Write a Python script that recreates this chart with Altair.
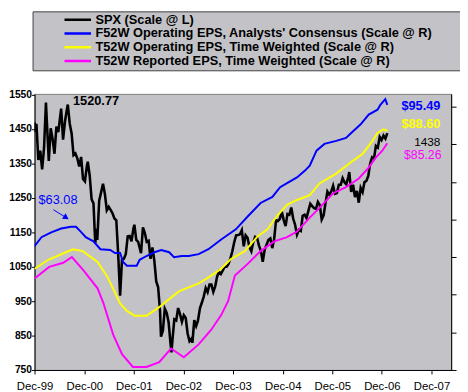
import altair as alt
import pandas as pd

# ---------------- data ----------------
series_names = [
    "SPX (Scale @ L)",
    "F52W Operating EPS, Analysts' Consensus (Scale @ R)",
    "T52W Operating EPS, Time Weighted (Scale @ R)",
    "T52W Reported EPS, Time Weighted (Scale @ R)",
]
series_colors = ["#000000", "#0000FF", "#FFFF00", "#FF00FF"]

spx_dates = [
    "1999-12-31", "2000-01-07", "2000-01-14", "2000-01-28", "2000-02-11", "2000-02-25", "2000-03-10",
    "2000-03-24", "2000-04-14", "2000-04-28", "2000-05-12", "2000-05-26", "2000-06-09", "2000-06-23",
    "2000-07-14", "2000-07-28", "2000-08-11", "2000-08-25", "2000-09-01", "2000-09-15", "2000-09-29",
    "2000-10-13", "2000-10-27", "2000-11-10", "2000-11-24", "2000-12-08", "2000-12-22",
    "2001-01-05", "2001-01-19", "2001-01-26", "2001-02-09", "2001-02-23", "2001-03-09", "2001-03-22",
    "2001-03-30", "2001-04-06", "2001-04-20", "2001-05-04", "2001-05-18", "2001-06-01", "2001-06-15",
    "2001-06-29", "2001-07-13", "2001-07-27", "2001-08-10", "2001-08-24", "2001-09-07", "2001-09-21",
    "2001-10-05", "2001-10-19", "2001-11-02", "2001-11-16", "2001-11-30", "2001-12-14", "2001-12-28",
    "2002-01-04", "2002-01-18", "2002-02-01", "2002-02-22", "2002-03-08", "2002-03-22", "2002-04-05",
    "2002-04-19", "2002-05-03", "2002-05-17", "2002-05-31", "2002-06-14", "2002-06-28", "2002-07-12",
    "2002-07-19", "2002-08-02", "2002-08-16", "2002-08-30", "2002-09-13", "2002-09-27", "2002-10-04",
    "2002-10-11", "2002-10-25", "2002-11-08", "2002-11-22", "2002-12-06", "2002-12-20",
    "2003-01-03", "2003-01-17", "2003-01-31", "2003-02-14", "2003-02-28", "2003-03-07", "2003-03-21",
    "2003-04-04", "2003-04-17", "2003-05-02", "2003-05-16", "2003-05-30", "2003-06-13", "2003-06-27",
    "2003-07-11", "2003-07-25", "2003-08-08", "2003-08-22", "2003-09-05", "2003-09-19", "2003-10-03",
    "2003-10-17", "2003-10-31", "2003-11-14", "2003-11-28", "2003-12-12", "2003-12-26",
    "2004-01-09", "2004-01-23", "2004-02-06", "2004-02-20", "2004-03-05", "2004-03-19", "2004-04-02",
    "2004-04-16", "2004-04-30", "2004-05-14", "2004-05-28", "2004-06-11", "2004-06-25", "2004-07-09",
    "2004-07-23", "2004-08-06", "2004-08-20", "2004-09-03", "2004-09-17", "2004-10-01", "2004-10-15",
    "2004-10-29", "2004-11-12", "2004-11-26", "2004-12-10", "2004-12-24",
    "2005-01-07", "2005-01-21", "2005-02-04", "2005-02-18", "2005-03-04", "2005-03-18", "2005-04-01",
    "2005-04-15", "2005-04-29", "2005-05-13", "2005-05-27", "2005-06-10", "2005-06-24", "2005-07-08",
    "2005-07-22", "2005-08-05", "2005-08-19", "2005-09-02", "2005-09-16", "2005-09-30", "2005-10-14",
    "2005-10-28", "2005-11-11", "2005-11-25", "2005-12-09", "2005-12-23",
    "2006-01-06", "2006-01-20", "2006-02-03", "2006-02-17", "2006-03-03", "2006-03-17", "2006-03-31",
    "2006-04-13", "2006-04-28", "2006-05-05", "2006-05-19", "2006-06-02", "2006-06-16", "2006-06-30",
    "2006-07-14", "2006-07-28", "2006-08-11", "2006-08-25", "2006-09-08", "2006-09-22", "2006-10-06",
    "2006-10-20", "2006-11-03", "2006-11-17", "2006-12-01", "2006-12-15", "2006-12-29",
    "2007-01-12", "2007-01-26", "2007-02-09",
]
spx_values = [
    1469, 1441, 1465, 1360, 1387, 1333, 1395,
    1527, 1357, 1452, 1421, 1378, 1457, 1441,
    1509, 1419, 1471, 1507, 1521, 1466, 1437,
    1374, 1379, 1365, 1341, 1369, 1305,
    1298, 1342, 1355, 1315, 1246, 1234, 1118,
    1160, 1128, 1242, 1266, 1291, 1261, 1214,
    1224, 1215, 1205, 1190, 1185, 1085, 966,
    1071, 1073, 1087, 1138, 1139, 1124, 1161,
    1172, 1128, 1122, 1089, 1164, 1148, 1122,
    1125, 1073, 1106, 1067, 1007, 990, 921,
    847, 865, 928, 916, 889, 827, 801,
    835, 897, 894, 930, 912, 890,
    909, 901, 856, 834, 841, 829, 895,
    878, 893, 930, 946, 964, 988, 976,
    998, 998, 977, 993, 1021, 1036, 1029,
    1039, 1050, 1050, 1058, 1074, 1095,
    1121, 1141, 1142, 1144, 1156, 1109, 1141,
    1134, 1107, 1095, 1121, 1137, 1134, 1112,
    1096, 1064, 1099, 1114, 1128, 1132, 1104,
    1130, 1185, 1183, 1189, 1210,
    1186, 1168, 1203, 1201, 1222, 1190, 1172,
    1143, 1157, 1154, 1198, 1201, 1191, 1212,
    1233, 1226, 1220, 1218, 1238, 1229, 1187,
    1199, 1235, 1268, 1259, 1268,
    1285, 1262, 1264, 1288, 1288, 1307, 1295,
    1289, 1311, 1325, 1267, 1288, 1252, 1270,
    1236, 1279, 1267, 1296, 1299, 1314, 1350,
    1368, 1364, 1401, 1396, 1427, 1418,
    1431, 1422, 1438,
]

f52_dates = [
    "1999-12-31", "2000-02-20", "2000-05-02", "2000-07-14", "2000-09-24", "2000-10-31", "2000-12-05",
    "2001-01-11", "2001-03-09", "2001-04-29", "2001-07-10", "2001-08-15", "2001-09-21", "2001-10-13",
    "2001-11-10", "2002-01-21", "2002-02-12", "2002-04-03", "2002-05-31", "2002-07-21", "2002-09-17",
    "2002-10-23", "2002-12-19", "2003-02-09", "2003-04-22", "2003-07-03", "2003-10-05", "2004-01-21",
    "2004-04-17", "2004-07-21", "2004-10-16", "2004-12-12", "2005-01-29", "2005-04-15", "2005-06-13",
    "2005-07-18", "2005-09-06", "2005-11-03", "2006-01-29", "2006-04-11", "2006-05-19", "2006-07-28",
    "2006-09-25", "2006-11-29", "2006-12-20", "2007-01-25", "2007-02-09",
]
f52_values = [
    57.9, 60.3, 61.6, 62.6, 63.1, 63.08, 61.8,
    60.3, 59.2, 57.1, 56.9, 56.1, 56.1, 53.7,
    52.7, 52.7, 54.3, 55.3, 56.3, 56.9, 56.3,
    55.0, 55.3, 55.3, 55.8, 57.1, 59.7, 62.4,
    65.8, 69.4, 71.0, 73.6, 74.6, 76.2, 78.0,
    79.3, 83.3, 85.1, 85.9, 86.7, 88.0, 90.3,
    92.9, 94.2, 95.5, 97.0, 95.49,
]

t52op_dates = [
    "1999-12-31", "2000-04-10", "2000-08-05", "2000-10-09", "2000-12-20", "2001-04-08", "2001-06-19",
    "2001-09-21", "2001-11-10", "2002-01-07", "2002-04-03", "2002-07-06", "2002-11-27", "2003-04-22",
    "2003-07-24", "2003-10-05", "2003-12-16", "2004-03-27", "2004-06-29", "2004-09-10", "2004-11-20",
    "2005-02-01", "2005-04-15", "2005-07-18", "2005-09-28", "2006-01-29", "2006-05-31", "2006-08-12",
    "2006-10-23", "2006-11-29", "2007-01-11", "2007-02-09",
]
t52op_values = [
    51.9, 54.3, 56.1, 57.1, 56.6, 53.7, 49.8,
    42.7, 40.7, 39.4, 39.4, 41.7, 45.9, 48.0,
    50.1, 51.9, 54.5, 56.6, 60.5, 62.4, 66.0,
    68.9, 70.2, 71.5, 74.6, 77.2, 80.6, 82.5,
    85.9, 88.0, 89.0, 88.60,
]

t52rep_dates = [
    "1999-12-31", "2000-04-17", "2000-07-29", "2000-10-01", "2000-12-27", "2001-04-08", "2001-05-21",
    "2001-08-01", "2001-10-05", "2001-12-24", "2002-04-03", "2002-07-06", "2002-10-01", "2003-01-03",
    "2003-04-22", "2003-07-24", "2003-10-05", "2003-11-25", "2004-01-14", "2004-04-17", "2004-07-21",
    "2004-10-30", "2005-02-01", "2005-04-15", "2005-07-18", "2005-09-28", "2006-01-07", "2006-04-11",
    "2006-07-14", "2006-09-25", "2006-11-14", "2007-01-03", "2007-02-09",
]
t52rep_values = [
    49.3, 52.4, 53.5, 55.0, 51.4, 46.7, 42.8,
    34.4, 29.2, 25.8, 25.8, 27.1, 30.7, 28.4,
    31.8, 35.7, 39.6, 43.3, 50.1, 53.2, 56.6,
    59.2, 60.3, 61.8, 65.5, 68.1, 72.0, 73.6,
    75.9, 78.8, 81.4, 83.3, 85.26,
]

left_ticks = [750, 850, 950, 1050, 1150, 1250, 1350, 1450, 1550]
right_ticks = [25, 35, 45, 55, 65, 75, 85, 95]
x_tick_years = [1999, 2000, 2001, 2002, 2003, 2004, 2005, 2006, 2007]

FONT = "Liberation Sans"

# ---------------- tables ----------------
spx_df = pd.DataFrame({"date": spx_dates, "value": spx_values, "series": series_names[0]})
eps_df = pd.concat([
    pd.DataFrame({"date": f52_dates, "value": f52_values, "series": series_names[1]}),
    pd.DataFrame({"date": t52op_dates, "value": t52op_values, "series": series_names[2]}),
    pd.DataFrame({"date": t52rep_dates, "value": t52rep_values, "series": series_names[3]}),
], ignore_index=True)

x_scale = alt.Scale(
    type="utc",
    domain=[alt.DateTime(year=1999, month=12, date=31, utc=True),
            alt.DateTime(year=2008, month=5, date=24, utc=True)],
    nice=False,
)
x_axis = alt.Axis(
    values=[alt.DateTime(year=y, month=12, date=31, utc=True) for y in x_tick_years],
    format="%b-%y", title=None, grid=False, labelFont=FONT, labelFontSize=11.5,
    labelColor="black", tickColor="black", domainColor="black", tickSize=4,
    labelPadding=7, labelFlush=False, labelOverlap=False,
)
left_axis = alt.Axis(
    orient="left", values=left_ticks, format="d", title=None, grid=False,
    labelFont=FONT, labelFontSize=10.5, labelFontWeight="bold",
    labelColor="black", tickColor="black", domainColor="black",
    tickSize=3, labelPadding=0, labelOverlap=False, labelFlush=False, labelSeparation=0,
)
right_axis = alt.Axis(
    orient="right", values=right_ticks, labels=False, title=None,
    grid=False, tickColor="black", domainColor="black", tickSize=5,
)

legend = alt.Legend(
    orient="none", legendX=-2, legendY=-84, direction="vertical",
    fillColor="#C3C3C7", strokeColor="#404040", padding=2,
    symbolType="stroke", symbolSize=729, symbolStrokeWidth=2.5, symbolOffset=29,
    clipHeight=13, labelFont=FONT, labelFontSize=13, labelFontWeight="bold",
    labelColor="black", labelOffset=3, labelLimit=600, rowPadding=0,
    title="\u00a0", titleOrient="right", titlePadding=30, titleFontSize=4,
)
color_enc = alt.Color("series:N", scale=alt.Scale(domain=series_names, range=series_colors), legend=legend)

X = alt.X("date:T", scale=x_scale, axis=x_axis, title=None)
left_scale = alt.Scale(domain=[750, 1552], nice=False, zero=False)
right_scale = alt.Scale(domain=[25, 98.4], nice=False, zero=False)


def label(dates, vals, text, color, align, bold, yscale, yaxis, size=13):
    df = pd.DataFrame({"date": dates, "value": vals, "t": text})
    return alt.Chart(df).mark_text(
        align=align, baseline="middle", font=FONT, fontSize=size,
        fontWeight="bold" if bold else "normal", color=color,
    ).encode(x=X, y=alt.Y("value:Q", scale=yscale, axis=yaxis, title=None), text="t:N")


# ---------------- left (SPX) layer ----------------
spx_line = alt.Chart(spx_df).mark_line(strokeWidth=2.6, clip=True).encode(
    x=X,
    y=alt.Y("value:Q", scale=left_scale, axis=left_axis, title=None),
    color=color_enc,
)

left_layer = alt.layer(
    spx_line,
    label(["2000-10-09"], [1530], ["1520.77"], "black", "left", True, left_scale, left_axis),
    label(["2008-03-06"], [1412], ["1438"], "black", "right", False, left_scale, left_axis, 12),
)

# ---------------- right (EPS) layer ----------------
eps_lines = alt.Chart(eps_df).mark_line(strokeWidth=2, clip=True).encode(
    x=X,
    y=alt.Y("value:Q", scale=right_scale, axis=right_axis, title=None),
    color=color_enc,
)

arrow_df = pd.DataFrame({"date": ["2000-05-18"], "value": [67.6],
                         "date2": ["2000-08-20"], "value2": [65.5]})
arrow_line = alt.Chart(arrow_df).mark_rule(color="#0000FF", strokeWidth=1).encode(
    x=X, y=alt.Y("value:Q", scale=right_scale, axis=right_axis, title=None),
    x2="date2:T", y2="value2:Q",
)
arrow_head = alt.Chart(pd.DataFrame({"date": ["2000-08-20"], "value": [65.5]})).mark_point(
    shape="triangle-right", angle=33, size=45, filled=True, color="#0000FF", opacity=1,
).encode(x=X, y=alt.Y("value:Q", scale=right_scale, axis=right_axis, title=None))

right_layer = alt.layer(
    eps_lines,
    arrow_line,
    arrow_head,
    label(["2000-01-29"], [70.2], ["$63.08"], "#0000FF", "left", False, right_scale, right_axis),
    label(["2008-03-06"], [95.27], ["$95.49"], "#0000FF", "right", True, right_scale, right_axis),
    label(["2008-03-06"], [90.31], ["$88.60"], "#FFFF00", "right", True, right_scale, right_axis),
    label(["2008-03-14"], [82.2], ["$85.26"], "#FF00FF", "right", False, right_scale, right_axis, 12.5),
)

chart = alt.layer(left_layer, right_layer).resolve_scale(y="independent").properties(
    width=424, height=281,
    autosize=alt.AutoSizeParams(type="none"),
    padding={"left": 27, "top": 84, "right": 9, "bottom": 19},
    background="white",
).configure_view(
    fill="#C3C3C7", stroke="#808080", strokeWidth=1,
).configure_axisY(labelOverlap=False)

chart.save("out.html", embed_options={"renderer": "svg", "actions": False})
